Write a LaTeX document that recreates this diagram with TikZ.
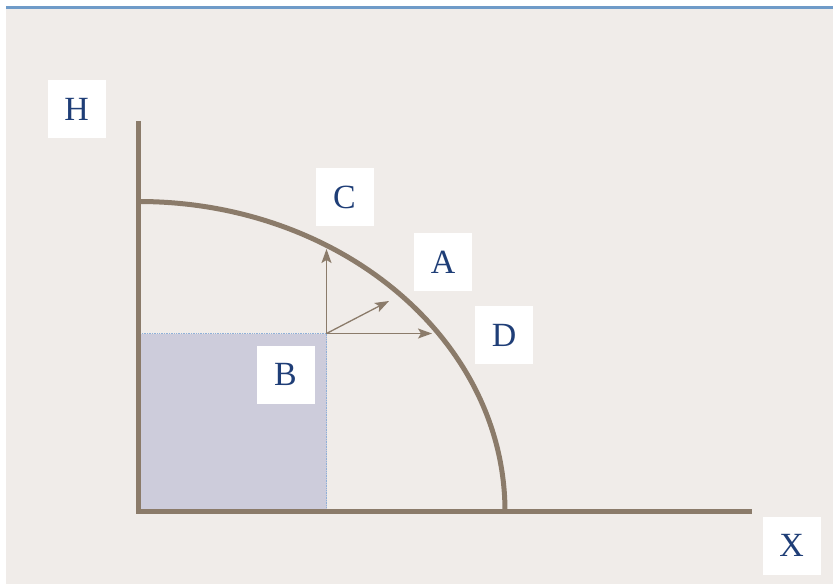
\documentclass[tikz,border=0pt]{standalone}
\usepackage{fontspec}
\setmainfont{Liberation Serif}
\usetikzlibrary{arrows.meta}
\usetikzlibrary{positioning}

\definecolor{slidebg}{HTML}{F0ECE9}
\definecolor{ruleblue}{HTML}{6F9BC8}
\definecolor{axisbrown}{HTML}{8B7B6A}
\definecolor{boxfill}{HTML}{CDCCDB}
\definecolor{boxedge}{HTML}{8FB0D8}
\definecolor{labelblue}{HTML}{1F3E77}

\begin{document}
\begin{tikzpicture}[
        x=1bp, y=-1bp,
        label box/.style={rectangle, fill=white, text=labelblue, minimum width=58bp, minimum height=58bp, inner sep=0pt, font=\fontsize{34}{38}\selectfont},
        axis/.style={draw=axisbrown, line width=5bp},
        arrow/.style={-{Stealth[length=14bp, width=10bp, inset=3bp]}, draw=axisbrown, line width=1.3bp}
    ]
    \useasboundingbox (0,0) rectangle (833,584);

    % Slide background and top rule
    \fill[slidebg] (6,9) rectangle (833,584);
    \draw[ruleblue, line width=3bp] (6,8) -- (833,8);

    % Shaded box
    \fill[boxfill] (138.5,333.5) rectangle (326.5,511.5);
    \draw[boxedge, densely dotted, line width=0.7bp] (138.5,333.5) -- (326.5,333.5) -- (326.5,511.5);

    % Axes
    \coordinate (origin) at (138.5,511.5);
    \draw[axis] (138.5,121) -- (origin) -- (752,511.5);

    % Frontier
    \draw[axis] (138.5,201.5) arc[start angle=-90, end angle=0, x radius=366.5, y radius=310];

    % Arrows
    \coordinate (o) at (326.5,333.5);
    \coordinate (tipC) at (326.5,249);
    \coordinate (tipA) at (389,301);
    \coordinate (tipD) at (432,333.5);
    \draw[arrow] (o) -- (tipC);
    \draw[arrow] (o) -- (tipA);
    \draw[arrow] (o) -- (tipD);

    % Labels
    \node[label box] (H) at (76.5,109) {H};
    \node[label box] (C) at (344.5,197) {C};
    \node[label box] (A) at (443,262) {A};
    \node[label box] (D) at (504,335) {D};
    \node[label box] (B) at (285.5,374.5) {B};
    \node[label box] (X) at (791.5,545.5) {X};

\end{tikzpicture}
\end{document}
